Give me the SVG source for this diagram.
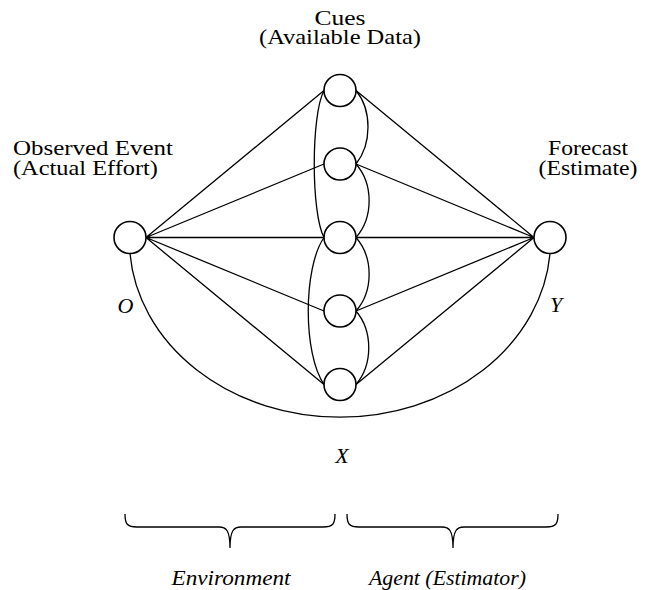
<svg xmlns="http://www.w3.org/2000/svg" width="662" height="590" viewBox="0 0 662 590">
<style>
.t{font-family:"Liberation Serif","Times New Roman",serif;font-size:22px;fill:#000}
.i{font-style:italic}
.n{fill:#fff;stroke:#000;stroke-width:1.6}
.c{fill:none;stroke:#000;stroke-width:1.3}
</style>
<rect width="662" height="590" fill="#fff"/>
<g id="connectors" class="c">
<path d="M146,237.5 L324,90.5 M146,237.5 L324,164 M146,237.5 L324,237.5 M146,237.5 L324,311 M146,237.5 L324,384.5"/>
<path d="M534,237.5 L356,90.5 M534,237.5 L356,164 M534,237.5 L356,237.5 M534,237.5 L356,311 M534,237.5 L356,384.5"/>
<path d="M324,90.5 C311,115 311,213 324,237.5"/>
<path d="M324,237.5 C303,268 303,354 324,384.5"/>
<path d="M356,90.5 C372,110 372,144 356,164"/>
<path d="M356,164 C373.5,184 373.5,217.5 356,237.5"/>
<path d="M356,237.5 C373.5,257.5 373.5,291 356,311"/>
<path d="M356,311 C373,331 373,364.5 356,384.5"/>
<path d="M130,253.5 A210.6,177 0 0 0 550,253.5"/>
</g>
<g id="node-O"><circle class="n" cx="130" cy="237.5" r="16"/></g>
<g id="node-Y"><circle class="n" cx="550" cy="237.5" r="16"/></g>
<g id="cue-1"><circle class="n" cx="340" cy="90.5" r="16"/></g>
<g id="cue-2"><circle class="n" cx="340" cy="164" r="16"/></g>
<g id="cue-3"><circle class="n" cx="340" cy="237.5" r="16"/></g>
<g id="cue-4"><circle class="n" cx="340" cy="311" r="16"/></g>
<g id="cue-5"><circle class="n" cx="340" cy="384.5" r="16"/></g>
<g id="labels">
<text class="t" x="340" y="25" text-anchor="middle" textLength="51" lengthAdjust="spacingAndGlyphs">Cues</text>
<text class="t" x="340" y="44" text-anchor="middle" textLength="162" lengthAdjust="spacingAndGlyphs">(Available Data)</text>
<text class="t" x="13" y="155" textLength="160" lengthAdjust="spacingAndGlyphs">Observed Event</text>
<text class="t" x="13" y="175" textLength="145" lengthAdjust="spacingAndGlyphs">(Actual Effort)</text>
<text class="t" x="588" y="155" text-anchor="middle" textLength="80" lengthAdjust="spacingAndGlyphs">Forecast</text>
<text class="t" x="588" y="175" text-anchor="middle" textLength="99" lengthAdjust="spacingAndGlyphs">(Estimate)</text>
<text class="t i" x="125.5" y="313" text-anchor="middle">O</text>
<text class="t i" x="556" y="312" text-anchor="middle">Y</text>
<text class="t i" x="342" y="463" text-anchor="middle">X</text>
<text class="t i" x="231" y="585" text-anchor="middle" textLength="119" lengthAdjust="spacingAndGlyphs">Environment</text>
<text class="t i" x="447.5" y="585" text-anchor="middle" textLength="157" lengthAdjust="spacingAndGlyphs">Agent (Estimator)</text>
</g>
<g id="braces" class="c">
<path d="M125,514 C125,524 127,527 137,527 L219,527 C226,527 230,530 230,548 C230,530 234,527 241,527 L323,527 C333,527 335,524 335,514"/>
<path d="M347,514 C347,524 349,527 359,527 L442,527 C449,527 453,530 453,548 C453,530 457,527 464,527 L546,527 C556,527 558,524 558,514"/>
</g>
</svg>
